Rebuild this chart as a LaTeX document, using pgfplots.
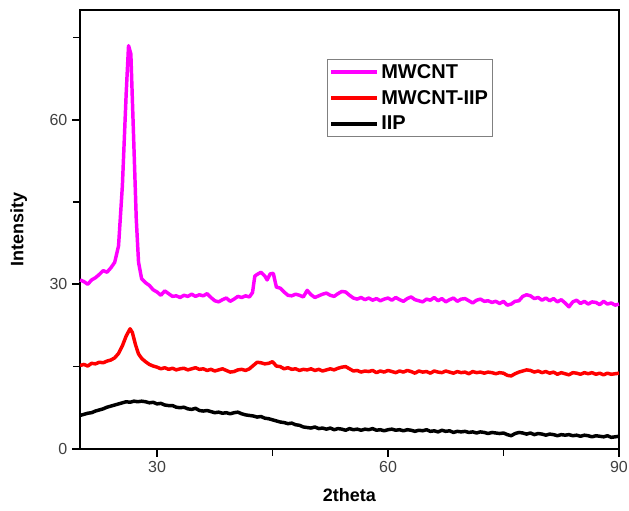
\documentclass[border=0pt]{standalone}
\usepackage{fontspec}
\setmainfont{Liberation Sans}
\usepackage{pgfplots}
\pgfplotsset{compat=1.18}
\usetikzlibrary{calc}
\definecolor{mag}{RGB}{255,0,255}
\definecolor{myred}{RGB}{255,0,0}
\begin{document}
\begin{tikzpicture}
\begin{axis}[
  scale only axis, width=404pt, height=329pt,
  xmin=20, xmax=90, ymin=0, ymax=80,
  axis line style={line width=1.5pt},
  xtick={30,60,90}, ytick={0,30,60},
  minor xtick={45,75}, minor ytick={15,45,75},
  tick pos=left, tick align=outside,
  major tick length=6pt, minor tick length=5pt,
  tick style={line width=1.3pt, black},
  /pgf/number format/assume math mode=true,
  tick label style={font=\fontsize{12}{14}\selectfont, text=black!75},
  xlabel={\textbf{2theta}}, ylabel={\textbf{Intensity}},
  label style={font=\fontsize{13.5}{16}\selectfont},
  xlabel style={at={($(rel axis cs:0.5,0)+(0,-34.5pt)$)}, anchor=center},
  ylabel style={at={($(rel axis cs:0,0.5)+(-46pt,0)$)}, anchor=center, rotate=0},
  legend style={at={(rel axis cs:0.458,0.888)}, anchor=north west,
    draw=black!50, line width=0.6pt, font=\fontsize{15}{18}\selectfont\bfseries,
    inner sep=1.5pt, row sep=3.5pt, cells={anchor=west}},
  legend image code/.code={\draw[#1, line width=3pt] (0pt,0pt) -- (34pt,0pt);},
  every axis plot/.append style={line width=2.6pt, line join=round},
  clip=false,
]
\addplot[mag] coordinates {
(20,30.8)(20.5,30.5)(21,30.0)(21.5,30.8)(22,31.2)(22.5,31.8)(23,32.5)(23.5,32.2)(24,33.0)(24.5,34.0)
(25,37)(25.5,48)(26,65)(26.3,73.5)(26.6,72)(27,55)(27.3,42)(27.6,34)(28,31)(28.5,30.3)
(29,29.8)(29.5,29.0)(30,28.6)(30.5,28.0)(31,28.8)(31.5,28.3)(32,27.8)(32.5,27.9)(33,27.6)(33.5,28.0)
(34,27.8)(34.5,28.2)(35,27.8)(35.5,28.1)(36,27.9)(36.5,28.3)(37,27.6)(37.5,27.0)(38,26.8)(38.5,27.2)
(39,27.5)(39.5,26.9)(40,27.3)(40.5,27.8)(41,27.6)(41.5,27.9)(42,27.7)(42.4,28.5)(42.7,31.5)(43,31.8)
(43.5,32.2)(44,31.5)(44.3,30.8)(44.7,31.9)(45.1,32.0)(45.5,29.5)(46,29.3)(46.5,28.6)(47,28.0)(47.5,27.9)
(48,28.2)(48.5,28.0)(49,27.7)(49.5,28.9)(50,28.1)(50.5,27.6)(51,27.9)(51.5,28.2)(52,28.4)(52.5,28.0)
(53,27.8)(53.5,28.3)(54,28.7)(54.5,28.6)(55,28.0)(55.5,27.5)(56,27.3)(56.5,27.6)(57,27.2)(57.5,27.5)
(58,27.1)(58.5,27.4)(59,27.0)(59.5,27.3)(60,27.5)(60.5,27.1)(61,27.6)(61.5,27.2)(62,26.9)(62.5,27.4)
(63,27.7)(63.5,27.2)(64,27.0)(64.5,26.8)(65,27.3)(65.5,27.1)(66,27.6)(66.5,27.0)(67,27.4)(67.5,26.8)
(68,27.2)(68.5,27.5)(69,26.9)(69.5,27.3)(70,27.4)(70.5,27.0)(71,26.6)(71.5,27.1)(72,27.3)(72.5,26.9)
(73,27.0)(73.5,26.7)(74,26.9)(74.5,26.5)(75,26.9)(75.5,26.2)(76,26.4)(76.5,26.9)(77,27.0)(77.5,27.8)
(78,28.1)(78.5,27.9)(79,27.4)(79.5,27.6)(80,27.1)(80.5,27.5)(81,27.0)(81.5,27.4)(82,26.8)(82.5,27.2)
(83,26.6)(83.5,25.9)(84,26.8)(84.5,27.1)(85,26.5)(85.5,26.9)(86,26.4)(86.5,26.8)(87,26.7)(87.5,26.3)
(88,26.9)(88.5,26.4)(89,26.6)(89.5,26.2)(90,26.4)
};
\addlegendentry{MWCNT}
\addplot[myred] coordinates {
(20,15.2)(20.5,15.4)(21,15.1)(21.5,15.6)(22,15.5)(22.5,15.8)(23,15.7)(23.5,16.0)(24,16.2)(24.5,16.6)
(25,17.4)(25.5,18.8)(26,20.6)(26.5,21.9)(26.8,21.2)(27.2,19.0)(27.6,17.3)(28,16.5)(28.5,15.9)(29,15.4)
(29.5,15.1)(30,14.9)(30.5,14.6)(31,14.8)(31.5,14.5)(32,14.7)(32.5,14.4)(33,14.6)(33.5,14.7)(34,14.4)
(34.5,14.6)(35,14.8)(35.5,14.5)(36,14.6)(36.5,14.3)(37,14.5)(37.5,14.2)(38,14.4)(38.5,14.6)(39,14.3)
(39.5,14.0)(40,14.1)(40.5,14.4)(41,14.5)(41.5,14.3)(42,14.6)(42.5,15.2)(43,15.8)(43.5,15.7)(44,15.5)
(44.5,15.6)(45,15.9)(45.5,15.1)(46,15.0)(46.5,14.6)(47,14.8)(47.5,14.5)(48,14.6)(48.5,14.3)(49,14.5)
(49.5,14.4)(50,14.6)(50.5,14.3)(51,14.5)(51.5,14.2)(52,14.4)(52.5,14.6)(53,14.4)(53.5,14.7)(54,14.9)
(54.5,15.0)(55,14.6)(55.5,14.2)(56,14.3)(56.5,14.0)(57,14.2)(57.5,14.1)(58,14.3)(58.5,13.9)(59,14.2)
(59.5,14.0)(60,14.3)(60.5,14.1)(61,13.9)(61.5,14.2)(62,14.0)(62.5,14.3)(63,14.1)(63.5,13.8)(64,14.2)
(64.5,14.0)(65,14.1)(65.5,13.8)(66,14.2)(66.5,14.0)(67,13.9)(67.5,14.2)(68,14.0)(68.5,13.8)(69,14.1)
(69.5,13.9)(70,14.0)(70.5,13.7)(71,14.1)(71.5,13.9)(72,14.0)(72.5,13.8)(73,14.0)(73.5,13.9)(74,13.7)
(74.5,13.9)(75,13.8)(75.5,13.4)(76,13.3)(76.5,13.7)(77,14.0)(77.5,14.2)(78,14.4)(78.5,14.3)(79,14.0)
(79.5,14.2)(80,13.9)(80.5,14.1)(81,13.8)(81.5,14.0)(82,13.6)(82.5,13.9)(83,13.7)(83.5,13.5)(84,13.9)
(84.5,13.8)(85,13.6)(85.5,13.9)(86,13.7)(86.5,13.9)(87,13.6)(87.5,13.8)(88,13.5)(88.5,13.8)(89,13.6)
(89.5,13.7)(90,13.8)
};
\addlegendentry{MWCNT-IIP}
\addplot[black] coordinates {
(20,6.1)(20.5,6.3)(21,6.5)(21.5,6.6)(22,6.9)(22.5,7.1)(23,7.3)(23.5,7.6)(24,7.8)(24.5,8.0)
(25,8.2)(25.5,8.4)(26,8.6)(26.5,8.5)(27,8.7)(27.5,8.6)(28,8.7)(28.5,8.6)(29,8.4)(29.5,8.5)
(30,8.2)(30.5,8.3)(31,8.0)(31.5,7.9)(32,7.9)(32.5,7.6)(33,7.5)(33.5,7.6)(34,7.3)(34.5,7.2)
(35,7.4)(35.5,7.0)(36,6.9)(36.5,7.0)(37,6.8)(37.5,6.6)(38,6.7)(38.5,6.5)(39,6.6)(39.5,6.4)
(40,6.6)(40.5,6.7)(41,6.4)(41.5,6.2)(42,6.1)(42.5,6.0)(43,5.8)(43.5,5.9)(44,5.6)(44.5,5.5)
(45,5.3)(45.5,5.1)(46,4.9)(46.5,4.8)(47,4.6)(47.5,4.7)(48,4.4)(48.5,4.3)(49,4.0)(49.5,3.9)
(50,3.8)(50.5,4.0)(51,3.7)(51.5,3.8)(52,3.6)(52.5,3.8)(53,3.5)(53.5,3.7)(54,3.6)(54.5,3.4)
(55,3.7)(55.5,3.5)(56,3.6)(56.5,3.4)(57,3.6)(57.5,3.5)(58,3.7)(58.5,3.4)(59,3.5)(59.5,3.3)
(60,3.5)(60.5,3.6)(61,3.4)(61.5,3.5)(62,3.3)(62.5,3.5)(63,3.4)(63.5,3.2)(64,3.4)(64.5,3.3)
(65,3.5)(65.5,3.2)(66,3.3)(66.5,3.1)(67,3.4)(67.5,3.2)(68,3.3)(68.5,3.0)(69,3.2)(69.5,3.1)
(70,3.2)(70.5,3.0)(71,3.1)(71.5,2.9)(72,3.1)(72.5,3.0)(73,2.8)(73.5,3.0)(74,2.9)(74.5,2.8)
(75,2.9)(75.5,2.6)(76,2.4)(76.5,2.8)(77,3.0)(77.5,2.9)(78,2.7)(78.5,2.9)(79,2.6)(79.5,2.8)
(80,2.7)(80.5,2.5)(81,2.7)(81.5,2.6)(82,2.4)(82.5,2.6)(83,2.5)(83.5,2.6)(84,2.4)(84.5,2.5)
(85,2.3)(85.5,2.5)(86,2.4)(86.5,2.2)(87,2.4)(87.5,2.3)(88,2.2)(88.5,2.4)(89,2.1)(89.5,2.2)(90,2.3)
};
\addlegendentry{IIP}
\coordinate (sw) at (rel axis cs:0,0);
\coordinate (ne) at (rel axis cs:1,1);
\end{axis}
\pgfresetboundingbox
\path[use as bounding box] ($(sw)+(-60pt,-46.5pt)$) rectangle ($(ne)+(7.5pt,7.5pt)$);
\end{tikzpicture}
\end{document}
